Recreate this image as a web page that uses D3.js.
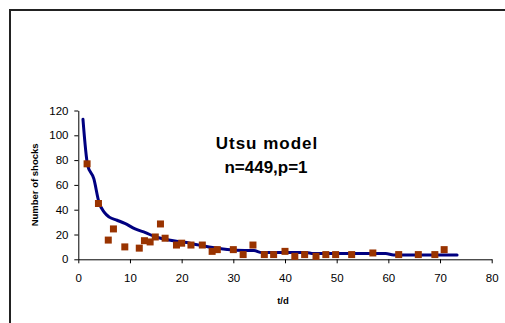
<!DOCTYPE html>
<html>
<head>
<meta charset="utf-8">
<script src="https://cdn.jsdelivr.net/npm/d3@7/dist/d3.min.js"></script>
<style>
  html, body { margin: 0; padding: 0; background: #fff; }
  svg { display: block; }
  text { font-family: Arial, "Liberation Sans", sans-serif; }
</style>
</head>
<body>
<svg id="chart" width="505" height="323"></svg>
<script>
// Observed data (t/d, number of shocks)
const obsT = [1.7, 3.9, 5.8, 6.8, 9, 11.8, 12.8, 13.9, 14.9, 15.9, 16.8, 19, 20, 21.8, 24, 25.9, 26.9, 30, 31.9, 33.8, 36, 37.8, 40, 41.9, 43.8, 46, 47.9, 49.8, 52.9, 57, 62, 65.8, 69, 70.8];
const obsN = [77, 45, 15.5, 24.5, 10, 9, 15, 14, 18, 28.5, 17, 11.5, 13, 11.5, 11.5, 6.4, 7.8, 7.8, 3.8, 11.5, 3.8, 3.8, 6.4, 2.4, 3.8, 2.4, 3.8, 3.8, 3.8, 5.1, 3.8, 3.8, 3.8, 7.8];

// Utsu model curve
const modelT = [0.9, 1.8, 3, 4, 5, 6, 7.5, 9, 11, 13, 15, 17, 19, 21, 22, 24, 26, 28, 30.5, 34, 35.5, 44, 45.5, 59.5, 61, 73.3];
const modelN = [113, 76, 65, 46, 38, 34, 31.5, 29, 24.5, 21.5, 18, 16, 14.6, 13.5, 12.6, 11, 9.5, 8.3, 7.3, 7, 5.5, 5.5, 4.6, 4.6, 3.5, 3.5];

const xTicks = [0, 10, 20, 30, 40, 50, 60, 70, 80];
const yTicks = [0, 20, 40, 60, 80, 100, 120];
const titleLines = ["Utsu model", "n=449,p=1"];
const xTitle = "t/d";
const yTitle = "Number of shocks";

const svg = d3.select("#chart");

// outer frame
svg.append("rect")
  .attr("x", 10).attr("y", 10).attr("width", 700).attr("height", 500)
  .attr("fill", "none").attr("stroke", "#222").attr("stroke-width", 2);

const x = d3.scaleLinear().domain([0, 80]).range([78.3, 491.7]);
const y = d3.scaleLinear().domain([0, 120]).range([259.3, 110.5]);

const xAxis = svg.append("g")
  .attr("transform", `translate(0,${y(0)})`)
  .call(d3.axisBottom(x).tickValues(xTicks).tickSize(4).tickPadding(10.5).tickSizeOuter(0));
const yAxis = svg.append("g")
  .attr("transform", `translate(${x(0)},0)`)
  .call(d3.axisLeft(y).tickValues(yTicks).tickSize(4).tickPadding(5.8).tickSizeOuter(0));

[xAxis, yAxis].forEach(g => {
  g.select(".domain").attr("stroke", "#000").attr("stroke-width", 1);
  g.selectAll(".tick line").attr("stroke", "#000");
  g.selectAll(".tick text").attr("fill", "#000")
    .style("font-size", "11.5px").style("font-family", "Arial, 'Liberation Sans', sans-serif");
});

// model line
const pts = modelT.map((t, i) => [t, modelN[i]]);
svg.append("path")
  .datum(pts)
  .attr("fill", "none")
  .attr("stroke", "#000080")
  .attr("stroke-width", 3)
  .attr("stroke-linejoin", "round")
  .attr("stroke-linecap", "round")
  .attr("d", d3.line().x(d => x(d[0])).y(d => y(d[1])).curve(d3.curveMonotoneX));

// observed points
const sz = 7;
svg.append("g").selectAll("rect")
  .data(obsT.map((t, i) => [t, obsN[i]]))
  .join("rect")
  .attr("x", d => x(d[0]) - sz / 2)
  .attr("y", d => y(d[1]) - sz / 2)
  .attr("width", sz).attr("height", sz)
  .attr("fill", "#993300");

// title
svg.append("text")
  .attr("x", 267).attr("y", 149)
  .attr("text-anchor", "middle")
  .style("font-size", "17px").style("font-weight", "bold").style("letter-spacing", "1px")
  .text(titleLines[0]);
svg.append("text")
  .attr("x", 266).attr("y", 172.5)
  .attr("text-anchor", "middle")
  .style("font-size", "17px").style("font-weight", "bold")
  .text(titleLines[1]);

// axis titles
svg.append("text")
  .attr("x", 283).attr("y", 304)
  .attr("text-anchor", "middle")
  .style("font-size", "9.5px").style("font-weight", "bold")
  .text(xTitle);
svg.append("text")
  .attr("transform", `translate(38,${y(60)}) rotate(-90)`)
  .attr("text-anchor", "middle")
  .style("font-size", "9.5px").style("font-weight", "bold")
  .text(yTitle);
</script>
</body>
</html>
